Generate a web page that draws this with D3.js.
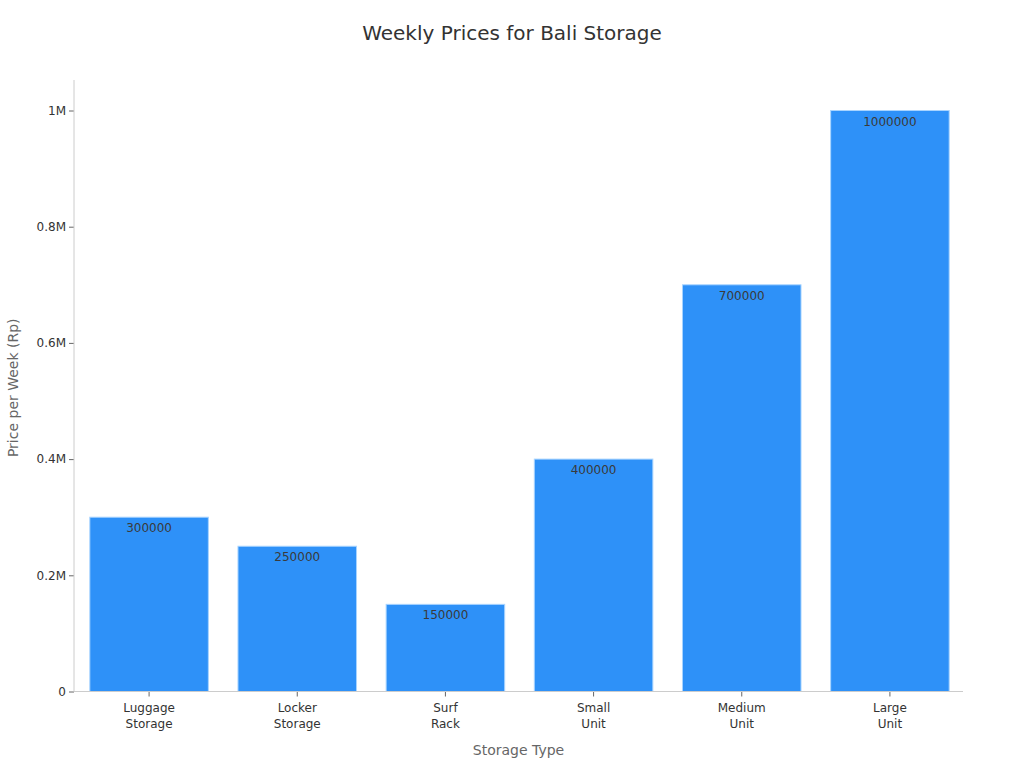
<!DOCTYPE html>
<html><head><meta charset="utf-8">
<script src="https://cdn.jsdelivr.net/npm/d3@7"></script>
<style>body{margin:0;background:#fff}svg{display:block;font-family:"DejaVu Sans",sans-serif}</style>
</head><body><svg id="c" width="1024" height="768"></svg>
<script>
const categories = ["Luggage\nStorage","Locker\nStorage","Surf\nRack","Small\nUnit","Medium\nUnit","Large\nUnit"];
const values = [300000,250000,150000,400000,700000,1000000];
const yTicks = [0,200000,400000,600000,800000,1000000];
const yTickLabels = ["0","0.2M","0.4M","0.6M","0.8M","1M"];

const svg = d3.select("#c");
const L=74,R=963,T=80,B=691.5;
const x = d3.scaleBand().domain(categories).range([L+1,R+1]).paddingInner(0.2).paddingOuter(0.1);
const y = d3.scaleLinear().domain([0,1000000]).range([B,110.5]);

svg.append("text").attr("x",512).attr("y",40).attr("text-anchor","middle")
  .attr("font-size",20).attr("fill","#333").text("Weekly Prices for Bali Storage");

svg.selectAll("rect.bar").data(values).join("rect").attr("class","bar")
  .attr("x",(d,i)=>x(categories[i])).attr("width",x.bandwidth())
  .attr("y",d=>y(d)).attr("height",d=>B-y(d))
  .attr("fill","#2e91f8").attr("stroke","#a8d4ff").attr("stroke-width",1);

svg.selectAll("text.val").data(values).join("text").attr("class","val")
  .attr("x",(d,i)=>x(categories[i])+x.bandwidth()/2).attr("y",d=>y(d)+15)
  .attr("text-anchor","middle").attr("font-size",12).attr("fill","#3a3a3a").text(d=>d);

// y axis
const ya = svg.append("g").attr("transform",`translate(${L},0)`)
  .call(d3.axisLeft(y).tickValues(yTicks).tickFormat((d,i)=>yTickLabels[i]).tickSize(5).tickPadding(3).tickSizeOuter(0));
ya.select(".domain").remove();
ya.selectAll(".tick line").attr("stroke","#666");
ya.selectAll(".tick text").attr("font-size",12).attr("fill","#333").attr("font-family","DejaVu Sans");
svg.append("line").attr("x1",L).attr("x2",L).attr("y1",T).attr("y2",B).attr("stroke","#ccc");

// x axis
const xa = svg.append("g").attr("transform",`translate(0,${B})`)
  .call(d3.axisBottom(x).tickSize(5).tickSizeOuter(0).tickFormat(""));
xa.select(".domain").remove();
xa.selectAll(".tick line").attr("stroke","#666");
svg.append("line").attr("x1",L).attr("x2",R).attr("y1",B).attr("y2",B).attr("stroke","#ccc");
xa.selectAll(".tick").each(function(d){
  const t = d3.select(this).append("text").attr("text-anchor","middle").attr("font-size",12)
    .attr("fill","#333").attr("font-family","DejaVu Sans");
  d.split("\n").forEach((s,i)=>t.append("tspan").attr("x",0).attr("y",20+i*16).text(s));
});

svg.append("text").attr("x",(L+R)/2).attr("y",755).attr("text-anchor","middle")
  .attr("font-size",14).attr("fill","#666").text("Storage Type");
svg.append("text").attr("transform",`translate(18,${(T+B)/2+2}) rotate(-90)`).attr("text-anchor","middle")
  .attr("font-size",14).attr("fill","#666").text("Price per Week (Rp)");
</script></body></html>
